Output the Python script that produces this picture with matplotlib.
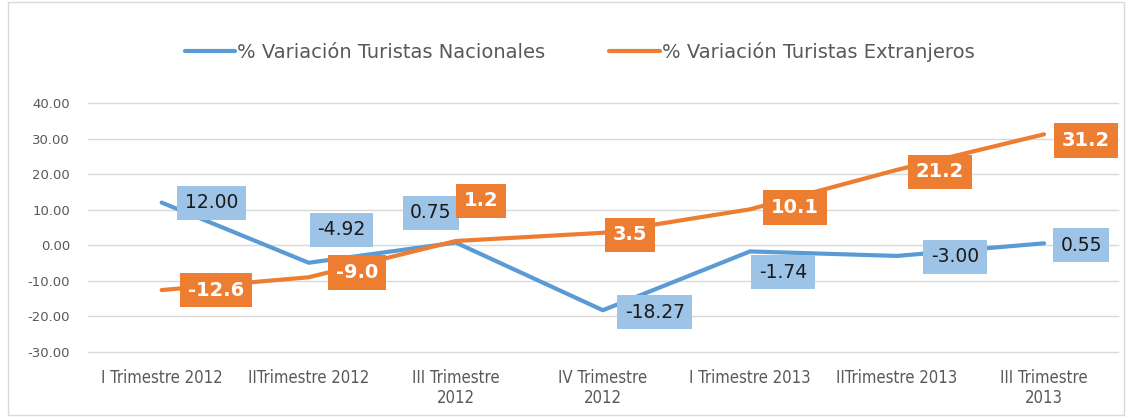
import matplotlib.pyplot as plt
from matplotlib.patches import Rectangle

categorias = ['I Trimestre 2012', 'IITrimestre 2012', 'III Trimestre\n2012', 'IV Trimestre\n2012',
              'I Trimestre 2013', 'IITrimestre 2013', 'III Trimestre\n2013']
nacionales = [12.00, -4.92, 0.75, -18.27, -1.74, -3.00, 0.55]
extranjeros = [-12.6, -9.0, 1.2, 3.5, 10.1, 21.2, 31.2]
yticks = [-30, -20, -10, 0, 10, 20, 30, 40]

azul = '#5B9BD5'
naranja = '#ED7D31'

fig = plt.figure(figsize=(11.30, 4.17), dpi=100)
fig.patches.append(Rectangle((0.007, 0.005), 0.988, 0.99, transform=fig.transFigure,
                             fill=False, edgecolor='#D9D9D9', linewidth=1))
ax = fig.add_axes([0.078, 0.156, 0.911, 0.597])

x = list(range(len(categorias)))
l1, = ax.plot(x, nacionales, color=azul, linewidth=3, solid_capstyle='round',
              label='% Variación Turistas Nacionales')
l2, = ax.plot(x, extranjeros, color=naranja, linewidth=3, solid_capstyle='round',
              label='% Variación Turistas Extranjeros')

ax.set_xlim(-0.5, len(categorias) - 0.5)
ax.set_ylim(-30, 40)
ax.set_yticks(yticks)
ax.set_yticklabels(['%.2f' % v for v in yticks], fontsize=9.5, color='#595959')
ax.set_xticks(x)
ax.set_xticklabels(categorias, fontsize=12, color='#595959', fontstretch='condensed',
                   linespacing=1.2)
ax.tick_params(length=0, pad=12)
ax.tick_params(axis='y', pad=13)
ax.grid(axis='y', color='#D9D9D9', linewidth=1)
for gl in ax.get_ygridlines():
    gl.set_clip_on(False)
ax.set_axisbelow(True)
for s in ax.spines.values():
    s.set_visible(False)

# offsets in pixels for data labels (y up)
off_n = [(50, 0), (33, 33), (-25, 30), (52, -2), (33, -21), (58, -1), (37, -2)]
off_e = [(54, 0), (48, 5), (25, 40), (27, -2), (45, 2), (43, -2), (42, -6)]

for i, v in enumerate(nacionales):
    ax.annotate('%.2f' % v, (i, v), xytext=off_n[i], textcoords='offset pixels',
                ha='center', va='center', fontsize=13.5, color='#1a1a1a',
                bbox=dict(boxstyle='square,pad=0.4', facecolor='#9DC3E6', edgecolor='none'))
for i, v in enumerate(extranjeros):
    ax.annotate('%.1f' % v, (i, v), xytext=off_e[i], textcoords='offset pixels',
                ha='center', va='center', fontsize=14, color='white', fontweight='bold',
                bbox=dict(boxstyle='square,pad=0.4', facecolor=naranja, edgecolor='none'))

fig.legend(handles=[l1, l2], loc='center', bbox_to_anchor=(0.513, 0.875), ncol=2,
           frameon=False, handlelength=2.6, handletextpad=0.1, columnspacing=3.3,
           prop={'size': 14}, labelcolor='#595959')

fig.savefig('out.png', dpi=100)
